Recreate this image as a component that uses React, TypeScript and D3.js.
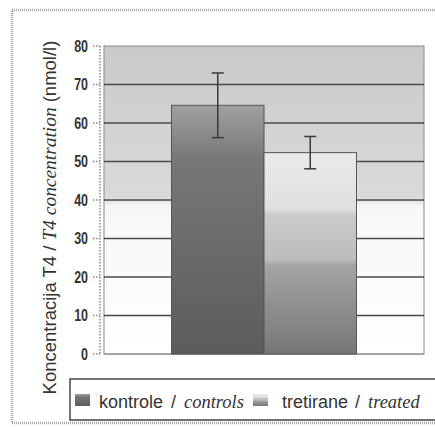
import React from "react";
import * as d3 from "d3";

const seriesNames = ["kontrole", "tretirane"];
const seriesNamesEn = ["controls", "treated"];
const means = [64.6, 52.3];
const errors = [8.4, 4.2];
const yTicks = [0, 10, 20, 30, 40, 50, 60, 70, 80];

const W = 435;
const H = 427;
const plot = { left: 104, right: 424, top: 46, bottom: 354 };

export default function App() {
  const y = d3.scaleLinear().domain([0, 80]).range([plot.bottom, plot.top]);
  const group = d3
    .scaleBand<string>()
    .domain(["g"])
    .range([plot.left, plot.right])
    .paddingInner(0)
    .paddingOuter(0.365);
  const x = d3
    .scaleBand<string>()
    .domain(seriesNames)
    .range([group("g")!, group("g")! + group.bandwidth()])
    .padding(0);

  const fills = ["url(#gControl)", "url(#gTreated)"];
  const sans = "'Liberation Sans', Arial, sans-serif";
  const serif = "'Liberation Serif', 'Times New Roman', serif";

  const legendItems = [
    { sw: 75, a: 99, slash: 171, b: 184 },
    { sw: 253, a: 282, slash: 355, b: 368 },
  ];

  return (
    <svg
      width={W}
      height={H}
      style={{ position: "absolute", left: 0, top: 0, background: "#fff" }}
    >
      <defs>
        <linearGradient id="gPlot" x1="0" y1="0" x2="0" y2="1">
          <stop offset="0" stopColor="#c9c9c9" />
          <stop offset="0.49" stopColor="#dadada" />
          <stop offset="0.52" stopColor="#f7f7f7" />
          <stop offset="1" stopColor="#ffffff" />
        </linearGradient>
        <linearGradient id="gControl" x1="0" y1="0" x2="0" y2="1">
          <stop offset="0" stopColor="#a0a0a0" />
          <stop offset="0.22" stopColor="#777777" />
          <stop offset="1" stopColor="#5c5c5c" />
        </linearGradient>
        <linearGradient id="gTreated" x1="0" y1="0" x2="0" y2="1">
          <stop offset="0" stopColor="#eaeaea" />
          <stop offset="0.28" stopColor="#e0e0e0" />
          <stop offset="0.31" stopColor="#cbcbcb" />
          <stop offset="0.53" stopColor="#bcbcbc" />
          <stop offset="0.56" stopColor="#a4a4a4" />
          <stop offset="1" stopColor="#767676" />
        </linearGradient>
      </defs>

      {/* outer dotted frame */}
      <rect
        x={12}
        y={10}
        width={440}
        height={413}
        fill="none"
        stroke="#a8a8a8"
        strokeWidth={2.5}
        strokeDasharray="1 1"
      />

      {/* plot background */}
      <rect
        x={plot.left}
        y={plot.top}
        width={plot.right - plot.left}
        height={plot.bottom - plot.top}
        fill="url(#gPlot)"
        stroke="#8a8a8a"
        strokeWidth={1}
      />

      {/* gridlines */}
      {yTicks
        .filter((t) => t > 0 && t < 80)
        .map((t) => (
          <line
            key={t}
            x1={plot.left}
            x2={plot.right}
            y1={y(t)}
            y2={y(t)}
            stroke="#4a4a4a"
            strokeWidth={1.5}
          />
        ))}
      <line
        x1={plot.left}
        x2={plot.right}
        y1={y(0)}
        y2={y(0)}
        stroke="#9a9a9a"
        strokeWidth={1.5}
      />

      {/* bars */}
      {seriesNames.map((s, i) => (
        <rect
          key={s}
          x={x(s)!}
          y={y(means[i])}
          width={x.bandwidth()}
          height={y(0) - y(means[i])}
          fill={fills[i]}
          stroke="#555"
          strokeWidth={1}
        />
      ))}

      {/* error bars */}
      {seriesNames.map((s, i) => {
        const cx = x(s)! + x.bandwidth() / 2;
        const top = y(means[i] + errors[i]);
        const bot = y(means[i] - errors[i]);
        return (
          <g key={s} stroke="#3a3a3a" strokeWidth={1.5}>
            <line x1={cx} x2={cx} y1={top} y2={bot} />
            <line x1={cx - 6} x2={cx + 6} y1={top} y2={top} />
            <line x1={cx - 6} x2={cx + 6} y1={bot} y2={bot} />
          </g>
        );
      })}

      {/* y axis (dotted) */}
      <line
        x1={100}
        x2={100}
        y1={y(80)}
        y2={y(0)}
        stroke="#8a8a8a"
        strokeWidth={1.5}
        strokeDasharray="1.5 1.5"
      />
      {yTicks.map((t) => (
        <g key={t}>
          <line
            x1={93}
            x2={100}
            y1={y(t)}
            y2={y(t)}
            stroke="#8a8a8a"
            strokeWidth={1.5}
            strokeDasharray="1.5 1.5"
          />
          <text
            transform={`translate(88, ${y(t)}) scale(0.78, 1)`}
            dy="0.36em"
            textAnchor="end"
            fontFamily={sans}
            fontWeight="bold"
            fontSize={16}
            fill="#333"
          >
            {t}
          </text>
        </g>
      ))}

      {/* y title */}
      <text
        transform={`translate(56, ${217.5}) rotate(-90)`}
        textAnchor="middle"
        fontFamily={sans}
        fontSize={18.5}
        fill="#333"
      >
        <tspan>Koncentracija T4 / </tspan>
        <tspan fontFamily={serif} fontStyle="italic" fontSize={19.4}>
          T4 concentration
        </tspan>
        <tspan> (nmol/l)</tspan>
      </text>

      {/* legend */}
      <rect
        x={70}
        y={379}
        width={380}
        height={41}
        fill="#fff"
        stroke="#444"
        strokeWidth={1.5}
      />
      {legendItems.map((p, i) => (
        <g key={i}>
          <rect x={p.sw} y={394} width={15} height={12} fill={fills[i]} />
          <text x={p.a} y={408} fontFamily={sans} fontSize={18} fill="#333">
            {seriesNames[i]}
          </text>
          <text x={p.slash} y={408} fontFamily={sans} fontSize={18} fill="#333">
            /
          </text>
          <text
            x={p.b}
            y={408}
            fontFamily={serif}
            fontStyle="italic"
            fontSize={18.5}
            fill="#333"
          >
            {seriesNamesEn[i]}
          </text>
        </g>
      ))}
    </svg>
  );
}
